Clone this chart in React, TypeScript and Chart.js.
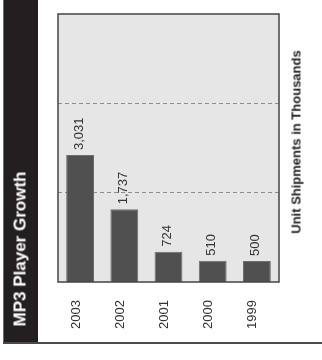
import React, { useEffect, useRef } from 'react';
import { Chart, registerables } from 'chart.js';

Chart.register(...registerables);

const categories = ['2003', '2002', '2001', '2000', '1999'];
const shipments = [3031, 1737, 724, 510, 500];
const axisMax = 6400;
const gridValues = [2133, 4267];
const titleText = 'MP3 Player Growth';
const axisTitleText = 'Unit Shipments in Thousands';

const FONT = '"Liberation Sans", Arial, Helvetica, sans-serif';

export default function App() {
  const canvasRef = useRef<HTMLCanvasElement>(null);

  useEffect(() => {
    const canvas = canvasRef.current;
    if (!canvas) return;

    const areaPlugin = {
      id: 'areaPlugin',
      beforeDraw(chart: any) {
        const { ctx, chartArea: a } = chart;
        ctx.save();
        ctx.fillStyle = '#e6e6e6';
        ctx.fillRect(a.left, a.top, a.right - a.left, a.bottom - a.top);
        ctx.restore();
      },
      afterDatasetsDraw(chart: any) {
        const { ctx, chartArea: a } = chart;
        ctx.save();
        // value labels
        const meta = chart.getDatasetMeta(0);
        ctx.fillStyle = '#333333';
        ctx.font = `13px ${FONT}`;
        ctx.textAlign = 'left';
        ctx.textBaseline = 'middle';
        meta.data.forEach((bar: any, i: number) => {
          const v = chart.data.datasets[0].data[i] as number;
          ctx.save();
          ctx.translate(bar.x - 1, bar.y - 5);
          ctx.rotate(-Math.PI / 2);
          ctx.fillText(v.toLocaleString('en-US'), 0, 0);
          ctx.restore();
        });
        // frame
        ctx.strokeStyle = '#444444';
        ctx.lineWidth = 1.5;
        ctx.strokeRect(a.left, a.top, a.right - a.left, a.bottom - a.top);
        ctx.restore();
      },
    };

    const chart = new Chart(canvas, {
      type: 'bar',
      data: {
        labels: categories,
        datasets: [
          {
            data: shipments,
            backgroundColor: '#505050',
            borderColor: '#6e6e6e',
            borderWidth: 1,
            barPercentage: 0.63,
            categoryPercentage: 1,
          },
        ],
      },
      options: {
        responsive: false,
        animation: false,
        layout: { padding: { left: 58, top: 14, right: 43, bottom: 0 } },
        plugins: {
          legend: { display: false },
          tooltip: { enabled: false },
          title: { display: false },
        },
        scales: {
          x: {
            grid: { display: false, drawTicks: false },
            border: { display: false },
            ticks: {
              color: '#333333',
              font: { family: FONT, size: 13 },
              minRotation: 90,
              maxRotation: 90,
              padding: 18,
              labelOffset: -4,
            },
            afterFit: (s: any) => {
              s.height = 78;
            },
          },
          y: {
            min: 0,
            max: axisMax,
            grid: { color: '#8c8c8c', lineWidth: 1, drawTicks: false },
            border: { display: false, dash: [4, 3] },
            ticks: { display: false },
            afterBuildTicks: (s: any) => {
              s.ticks = gridValues.map((v) => ({ value: v }));
            },
            afterFit: (s: any) => {
              s.width = 0;
            },
          },
        },
      },
      plugins: [areaPlugin],
    } as any);

    return () => chart.destroy();
  }, []);

  return (
    <div
      style={{
        position: 'absolute',
        left: 0,
        top: 0,
        width: 322,
        height: 360,
        background: '#ffffff',
        overflow: 'hidden',
        fontFamily: FONT,
      }}
    >
      <div
        style={{
          position: 'absolute',
          left: 3,
          top: 0,
          width: 35,
          height: 343,
          background: '#231f20',
          borderLeft: '1px solid #6a6a6a',
          boxSizing: 'border-box',
        }}
      />
      <div
        style={{
          position: 'absolute',
          left: 3,
          top: 342,
          width: 319,
          height: 2,
          background: '#4a4a4a',
        }}
      />
      <canvas
        ref={canvasRef}
        width={322}
        height={360}
        style={{ position: 'absolute', left: 0, top: 0 }}
      />
      <div
        style={{
          position: 'absolute',
          left: 19.5,
          top: 248.5,
          transform: 'translate(-50%, -50%) rotate(-90deg)',
          whiteSpace: 'nowrap',
          color: '#ffffff',
          fontWeight: 'bold',
          fontSize: 17,
          lineHeight: 1,
        }}
      >
        {titleText}
      </div>
      <div
        style={{
          position: 'absolute',
          left: 295.5,
          top: 142,
          transform: 'translate(-50%, -50%) rotate(-90deg)',
          whiteSpace: 'nowrap',
          color: '#222222',
          fontWeight: 'bold',
          fontSize: 13,
          lineHeight: 1,
        }}
      >
        {axisTitleText}
      </div>
    </div>
  );
}
